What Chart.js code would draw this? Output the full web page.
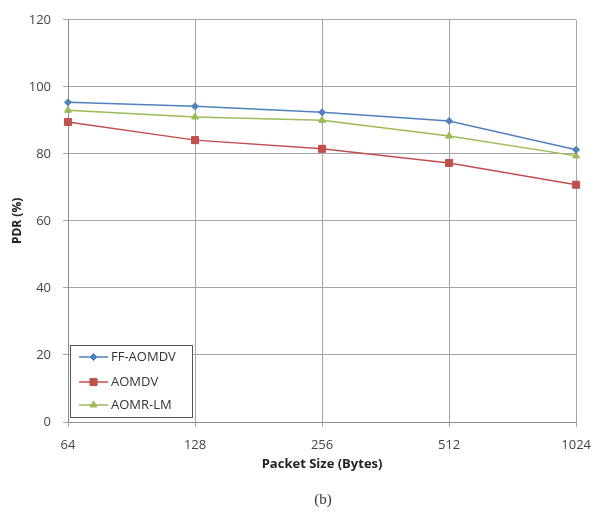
<!DOCTYPE html>
<html><head><meta charset="utf-8">
<script src="https://cdn.jsdelivr.net/npm/chart.js@4/dist/chart.umd.min.js"></script>
<style>html,body{margin:0;padding:0;background:#fff}#wrap{width:601px;height:516px}</style>
</head><body><div id="wrap"><canvas id="c" width="601" height="516"></canvas></div>
<script>
const categories = ["64", "128", "256", "512", "1024"];
const ffAomdv = [95.4, 94.2, 92.4, 89.8, 81.2];
const aomdv = [89.5, 84.1, 81.5, 77.3, 70.8];
const aomrLm = [93.0, 91.0, 90.0, 85.3, 79.4];
const seriesNames = ["FF-AOMDV", "AOMDV", "AOMR-LM"];
const yTicks = [0, 20, 40, 60, 80, 100, 120];

const FONT = "'Open Sans', 'Liberation Sans', sans-serif";
const colors = ['#4F81BD', '#C0504D', '#9BBB59'];
const styles = ['rectRot', 'rect', 'triangle'];
const radii = [3.5, 5, 4];

const legendPlugin = {
  id: 'boxLegend',
  afterDraw(chart) {
    const ctx = chart.ctx;
    const x0 = 70, y0 = 345, w = 122, h = 72;
    ctx.save();
    ctx.fillStyle = '#fff';
    ctx.fillRect(x0, y0, w, h);
    ctx.strokeStyle = '#555';
    ctx.lineWidth = 1;
    ctx.strokeRect(x0 + 0.5, y0 + 0.5, w, h);
    const rows = [357, 382, 405];
    chart.data.datasets.forEach((ds, i) => {
      const y = rows[i];
      ctx.strokeStyle = ds.borderColor;
      ctx.lineWidth = 1.5;
      ctx.beginPath(); ctx.moveTo(79, y); ctx.lineTo(108, y); ctx.stroke();
      ctx.fillStyle = ds.backgroundColor;
      ctx.strokeStyle = ds.borderColor;
      ctx.lineWidth = 1;
      Chart.helpers.drawPoint(ctx, {pointStyle: ds.pointStyle, radius: ds.pointRadius, borderWidth: 1}, 93.5, y);
      ctx.fillStyle = '#333';
      ctx.font = '13px ' + FONT;
      ctx.textBaseline = 'middle';
      ctx.textAlign = 'left';
      ctx.fillText(ds.label, 111, y);
    });
    ctx.fillStyle = '#333';
    ctx.font = '15px "Liberation Serif", serif';
    ctx.textAlign = 'center';
    ctx.textBaseline = 'middle';
    ctx.fillText('(b)', 323, 500);
    ctx.restore();
  }
};

const allSeries = [ffAomdv, aomdv, aomrLm];
new Chart(document.getElementById('c'), {
  type: 'line',
  data: {
    labels: categories,
    datasets: allSeries.map((d, i) => ({
      label: seriesNames[i],
      data: d,
      borderColor: colors[i],
      backgroundColor: colors[i],
      borderWidth: 1.5,
      pointStyle: styles[i],
      pointRadius: radii[i],
      pointBorderWidth: 1,
      tension: 0
    }))
  },
  options: {
    responsive: false,
    animation: false,
    layout: {padding: {top: 17, right: 21, left: 0, bottom: 44}},
    plugins: {legend: {display: false}, tooltip: {enabled: false}},
    scales: {
      x: {
        type: 'category',
        offset: false,
        grid: {color: '#a6a6a6', lineWidth: 1, tickLength: 5, tickColor: '#a6a6a6'},
        border: {color: '#8c8c8c'},
        ticks: {color: '#444', font: {family: FONT, size: 13}, padding: 10, maxRotation: 0},
        title: {display: true, text: 'Packet Size (Bytes)', color: '#222', font: {family: FONT, size: 13, weight: 'bold'}, padding: {top: 2, bottom: 0}},
        afterFit(s) { s.height = 50; }
      },
      y: {
        min: 0, max: 120,
        afterBuildTicks(s) { s.ticks = yTicks.map(v => ({value: v})); },
        grid: {color: '#a6a6a6', lineWidth: 1, tickLength: 5, tickColor: '#a6a6a6'},
        border: {color: '#8c8c8c'},
        ticks: {color: '#444', font: {family: FONT, size: 13}, padding: 12},
        title: {display: true, text: 'PDR (%)', color: '#222', font: {family: FONT, size: 12, weight: 'bold'}, padding: {top: 10, bottom: 0}},
        afterFit(s) { s.width = 68; }
      }
    }
  },
  plugins: [legendPlugin]
});
</script></body></html>
